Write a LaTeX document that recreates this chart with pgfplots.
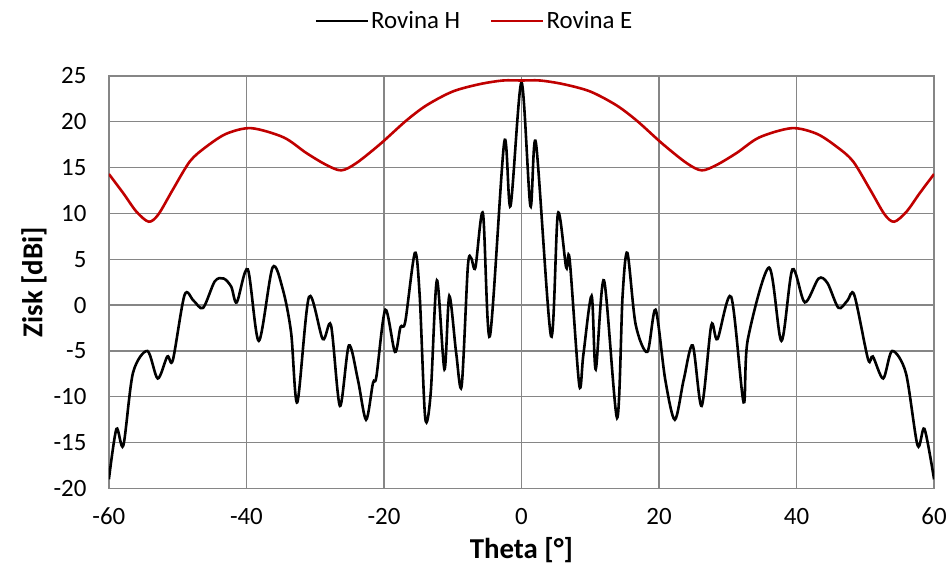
\documentclass[border=0pt]{standalone}
\usepackage{fontspec}
\setmainfont{Carlito}
\usepackage{pgfplots}
\pgfplotsset{compat=1.18}
\definecolor{gridgray}{RGB}{134,134,134}
\definecolor{redE}{RGB}{192,0,0}
\begin{document}
\begin{tikzpicture}
\begin{axis}[
  scale only axis,
  width=826bp, height=413bp,
  xmin=-60, xmax=60, ymin=-20, ymax=25,
  xtick distance=20, ytick distance=5,
  grid=major,
  major grid style={gridgray, line width=1.3bp},
  axis line style={gridgray, line width=1.3bp},
  major tick length=0pt,
  /pgf/number format/assume math mode=true,
  tick label style={font=\fontsize{25}{29}\selectfont, text=black},
  yticklabel style={xshift=-19bp},
  xticklabel style={yshift=-16bp},
  xlabel={\textbf{Theta [°]}},
  ylabel={\textbf{Zisk [dBi]}},
  label style={font=\fontsize{29}{33}\selectfont},
  xlabel style={yshift=-6bp},
  ylabel style={yshift=0bp},
  legend columns=2,
  legend style={draw=none, fill=none, at={(axis description cs:0.443,1.133)}, anchor=center,
    font=\fontsize{25}{29}\selectfont, /tikz/every even column/.append style={column sep=28bp}},
  legend image code/.code={\draw[#1] (0bp,0bp) -- (52bp,0bp);},
]
\addplot[black, line width=2.6bp, smooth, tension=0.5] coordinates {
(-60,-19.0) (-58.9,-13.5) (-57.9,-15.3) (-56.5,-7.4) (-54.4,-5.0) (-52.9,-8.0)
(-51.5,-5.6) (-50.7,-6.0) (-49.0,1.1) (-47.7,0.5) (-46.3,-0.3) (-44.6,2.6)
(-43.3,2.9) (-42.2,2.0) (-41.4,0.3) (-39.8,3.9) (-38.2,-3.9) (-36.2,4.1)
(-34.7,1.7) (-33.5,-3.0) (-32.6,-10.6) (-30.9,0.9) (-28.9,-3.7) (-27.7,-2.2)
(-26.4,-11.0) (-25.1,-4.4) (-23.8,-8.1) (-22.6,-12.5) (-21.6,-8.5) (-21.1,-7.8)
(-19.8,-0.5) (-18.4,-5.1) (-17.6,-2.4) (-16.9,-1.8) (-15.5,5.7) (-14.8,1.0)
(-14.0,-12.3) (-13.2,-9.6) (-12.3,2.7) (-11.2,-7.0) (-10.5,1.0) (-9.5,-5.2)
(-8.7,-8.8) (-7.8,4.2) (-7.3,5.1) (-6.7,4.1) (-5.6,10.0) (-4.6,-3.4)
(-2.5,17.8) (-1.6,10.8) (0,24.3) (1.3,10.8) (2.1,17.7) (4.3,-3.4)
(5.3,10.0) (6.5,4.1) (7.0,5.0) (8.4,-8.7) (9.0,-5.4) (10.2,1.0)
(10.8,-7.0) (12.0,2.7) (13.9,-12.3) (14.7,1.0) (15.4,5.7) (16.6,-2.1)
(18.3,-5.1) (19.5,-0.5) (20.9,-8.1) (22.3,-12.5) (23.6,-8.1) (24.9,-4.4)
(26.2,-11.0) (27.6,-2.2) (28.5,-3.7) (30.5,0.9) (32.3,-10.6) (32.9,-3.8)
(36.0,4.1) (37.8,-3.9) (39.4,3.9) (41.2,0.3) (43.2,2.9) (44.5,2.4)
(46.1,-0.3) (47.4,0.5) (48.4,1.1) (50.4,-5.9) (51.1,-5.6) (52.6,-8.0)
(53.9,-5.0) (55.9,-7.4) (57.6,-15.3) (58.6,-13.5) (60,-19.0)
};
\addlegendentry{Rovina H}
\addplot[redE, line width=2.6bp, smooth, tension=0.5] coordinates {
(-60,14.3) (-57.9,12.2) (-56,10.2) (-54.2,9.1) (-52.8,9.9) (-50.7,12.6)
(-48.2,15.7) (-45.8,17.3) (-42.9,18.7) (-39.3,19.3) (-34.6,18.3) (-31.3,16.6)
(-28.4,15.3) (-26.2,14.7) (-24,15.5) (-20.5,17.6) (-16.8,20.1) (-13.8,21.8)
(-10,23.3) (-6.1,24.1) (-2.7,24.5) (0,24.5) (2.7,24.5) (6.1,24.1)
(10,23.3) (13.8,21.8) (16.8,20.1) (20.5,17.6) (24,15.5) (26.2,14.7)
(28.4,15.3) (31.3,16.6) (34.6,18.3) (39.3,19.3) (42.9,18.7) (45.8,17.3)
(48.2,15.7) (50.7,12.6) (52.8,9.9) (54.2,9.1) (56,10.2) (57.9,12.2) (60,14.3)
};
\addlegendentry{Rovina E}
\end{axis}
\path (current axis.south west) ++(-109bp,-92bp) rectangle ++(950bp,581bp);
\end{tikzpicture}
\end{document}
